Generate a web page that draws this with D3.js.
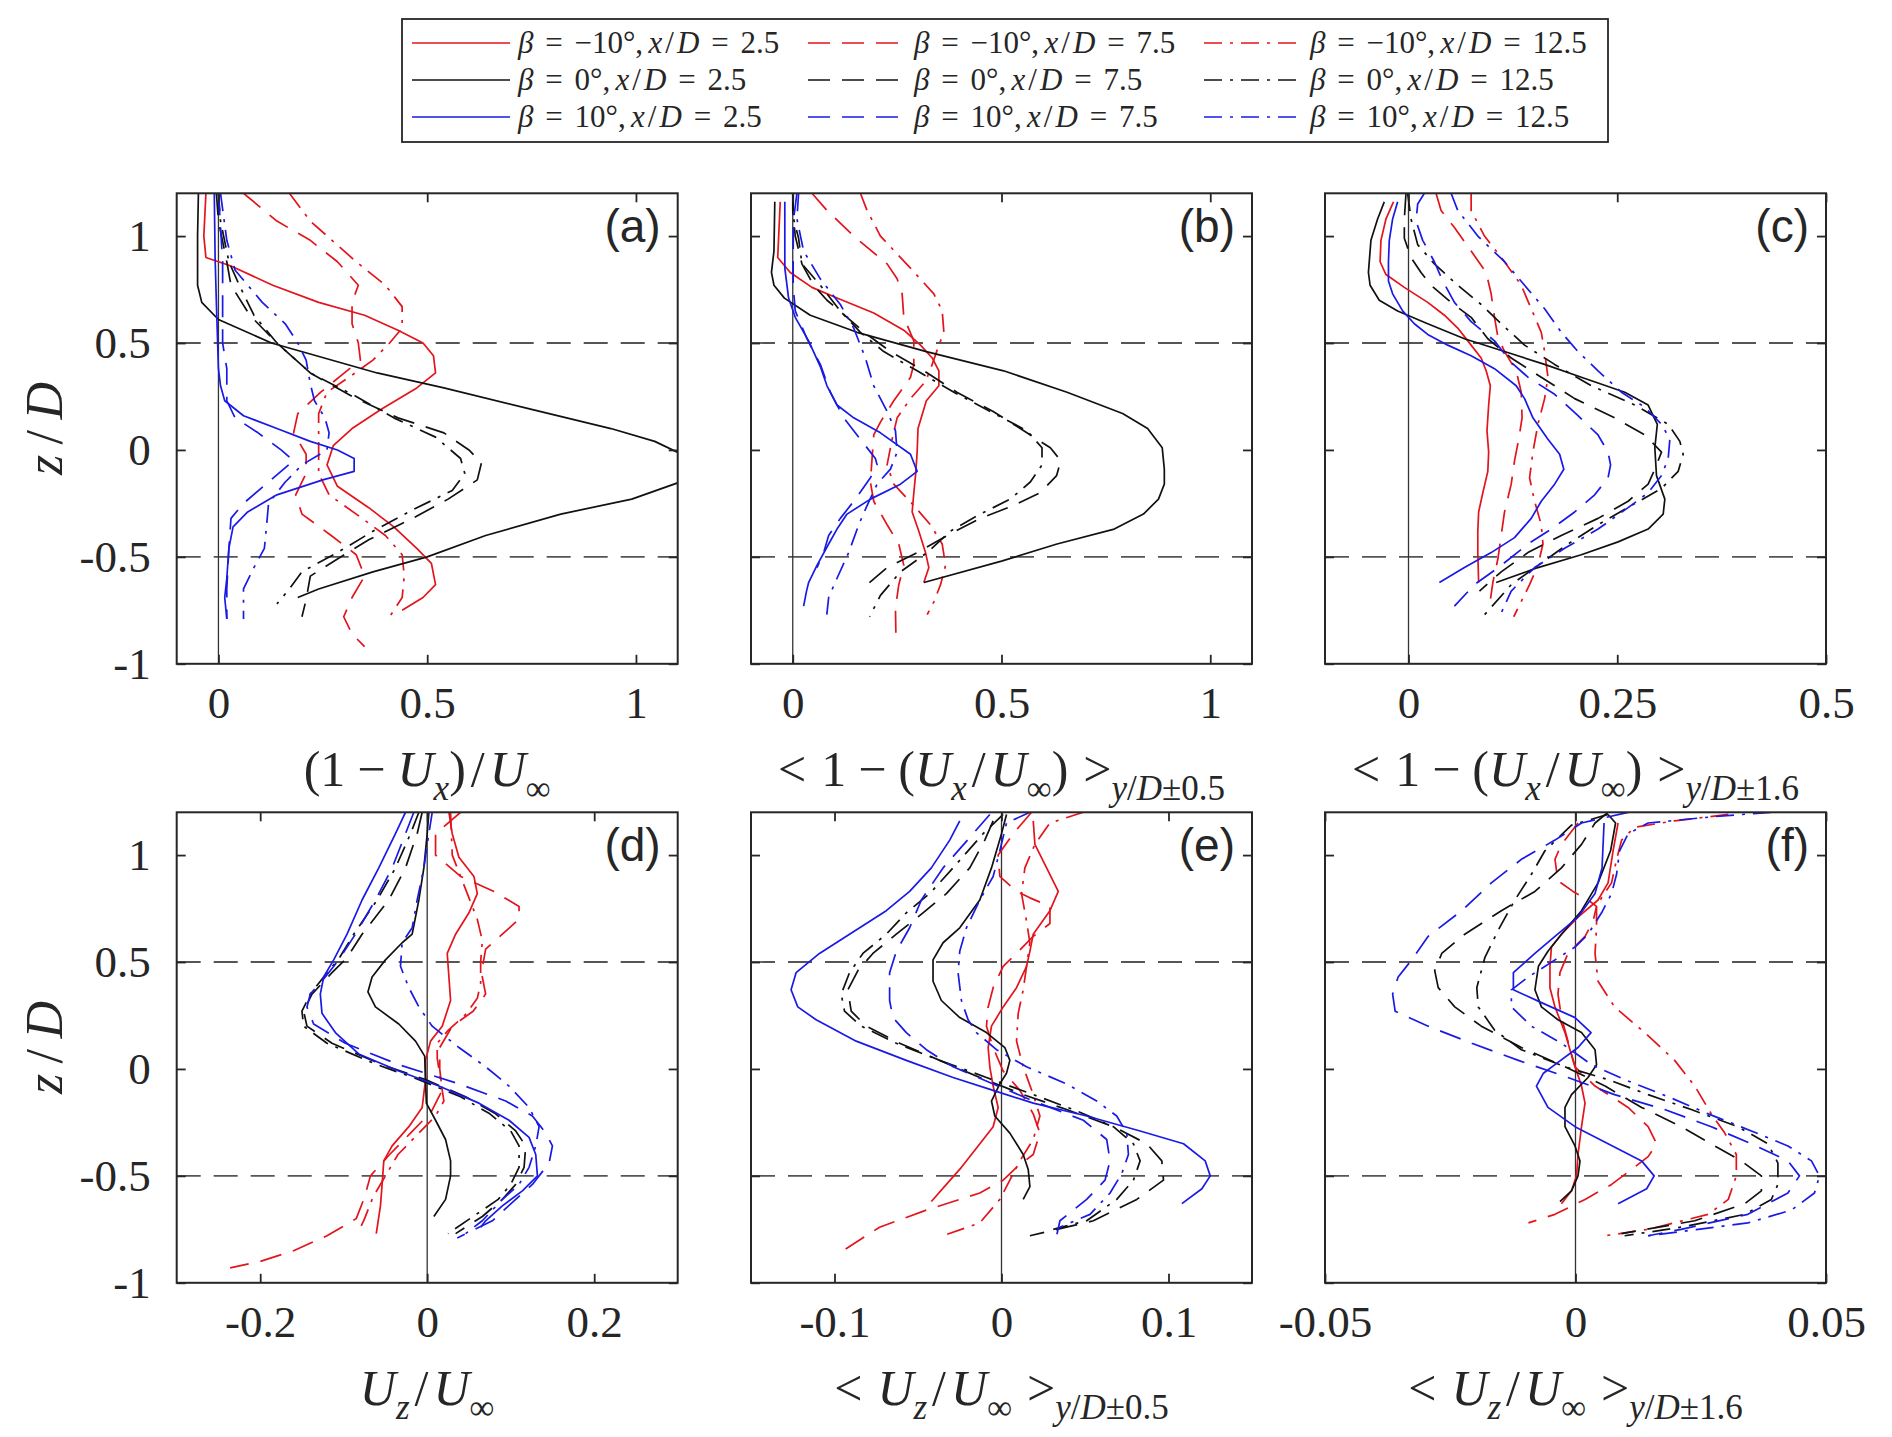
<!DOCTYPE html>
<html>
<head>
<meta charset="utf-8">
<script src="https://cdn.jsdelivr.net/npm/d3@7"></script>
<style>
  body { margin: 0; background: #fff; }
  text { fill: #262626; }
</style>
</head>
<body>
<svg id="fig" width="1892" height="1437"></svg>
<script>
// ---- data: each profile is a list of [value, z/D] pairs ----
// panel (a)  (1 - Ux)/Uinf
const a_m10_25 = [[-0.03,1.2],[-0.035,1.0],[-0.03,0.9],[0.03,0.86],[0.13,0.77],[0.24,0.69],[0.35,0.63],[0.43,0.56],[0.49,0.5],[0.515,0.44],[0.52,0.36],[0.475,0.29],[0.39,0.19],[0.32,0.1],[0.275,0.02],[0.26,-0.07],[0.285,-0.17],[0.36,-0.27],[0.42,-0.36],[0.475,-0.46],[0.51,-0.53],[0.52,-0.63],[0.49,-0.69],[0.44,-0.75]];
const a_m10_75 = [[0.06,1.2],[0.14,1.07],[0.22,0.98],[0.285,0.88],[0.335,0.77],[0.32,0.69],[0.32,0.59],[0.335,0.5],[0.34,0.42],[0.295,0.35],[0.245,0.27],[0.19,0.17],[0.18,0.08],[0.21,-0.02],[0.21,-0.11],[0.185,-0.21],[0.2,-0.3],[0.27,-0.4],[0.33,-0.49],[0.35,-0.59],[0.32,-0.69],[0.3,-0.78],[0.32,-0.86],[0.35,-0.92]];
const a_m10_125 = [[0.17,1.2],[0.22,1.07],[0.33,0.88],[0.4,0.77],[0.44,0.67],[0.44,0.57],[0.41,0.5],[0.37,0.42],[0.32,0.35],[0.26,0.27],[0.24,0.17],[0.24,0.08],[0.24,-0.02],[0.24,-0.11],[0.265,-0.21],[0.33,-0.3],[0.4,-0.4],[0.44,-0.49],[0.445,-0.59],[0.44,-0.69],[0.41,-0.78]];
const a_0_25 = [[-0.048,1.2],[-0.05,1.0],[-0.05,0.77],[-0.04,0.69],[0,0.61],[0.127,0.5],[0.38,0.36],[0.54,0.29],[0.75,0.19],[0.94,0.1],[1.045,0.04],[1.12,-0.03],[1.15,-0.08],[1.12,-0.14],[0.99,-0.23],[0.82,-0.3],[0.64,-0.4],[0.5,-0.5],[0.37,-0.57],[0.24,-0.65],[0.19,-0.69]];
const a_0_75 = [[-0.005,1.2],[0,1.07],[0.02,0.88],[0.03,0.77],[0.075,0.63],[0.14,0.5],[0.22,0.36],[0.32,0.25],[0.43,0.15],[0.54,0.08],[0.6,0.0],[0.63,-0.06],[0.62,-0.14],[0.55,-0.23],[0.465,-0.32],[0.36,-0.42],[0.285,-0.51],[0.22,-0.59],[0.21,-0.7],[0.2,-0.78]];
const a_0_125 = [[0,1.2],[0.005,1.07],[0.025,0.88],[0.05,0.77],[0.085,0.63],[0.14,0.5],[0.22,0.36],[0.33,0.25],[0.42,0.15],[0.52,0.06],[0.58,-0.04],[0.59,-0.11],[0.56,-0.19],[0.465,-0.28],[0.37,-0.38],[0.285,-0.48],[0.2,-0.57],[0.17,-0.65],[0.14,-0.72]];
const a_10_25 = [[-0.01,1.2],[-0.008,0.9],[-0.005,0.69],[0,0.38],[0.005,0.3],[0.015,0.23],[0.06,0.16],[0.14,0.1],[0.22,0.04],[0.285,0.0],[0.325,-0.04],[0.325,-0.1],[0.25,-0.14],[0.14,-0.21],[0.07,-0.29],[0.035,-0.36],[0.025,-0.46],[0.02,-0.6],[0.015,-0.69],[0.02,-0.79]];
const a_10_75 = [[0,1.2],[0.01,0.88],[0.01,0.69],[0.01,0.5],[0.02,0.38],[0.02,0.23],[0.04,0.15],[0.095,0.08],[0.15,0.0],[0.18,-0.05],[0.12,-0.15],[0.06,-0.25],[0.03,-0.32],[0.025,-0.46],[0.02,-0.65],[0.02,-0.79]];
const a_10_125 = [[0.005,1.2],[0.02,0.98],[0.04,0.84],[0.105,0.69],[0.16,0.59],[0.19,0.5],[0.21,0.42],[0.22,0.31],[0.23,0.23],[0.255,0.15],[0.265,0.08],[0.26,0.0],[0.2,-0.07],[0.16,-0.15],[0.12,-0.25],[0.115,-0.36],[0.11,-0.46],[0.085,-0.55],[0.06,-0.65],[0.06,-0.79]];

// panel (b)  <1 - Ux/Uinf> over y/D +-0.5
const b_m10_25 = [[-0.03,1.16],[-0.036,0.9],[-0.006,0.83],[0.046,0.76],[0.106,0.71],[0.194,0.64],[0.266,0.56],[0.306,0.49],[0.334,0.43],[0.35,0.37],[0.35,0.3],[0.32,0.23],[0.3,0.1],[0.298,-0.01],[0.294,-0.12],[0.29,-0.2],[0.286,-0.29],[0.302,-0.38],[0.318,-0.48],[0.326,-0.55],[0.314,-0.62]];
const b_m10_75 = [[0.046,1.2],[0.082,1.12],[0.146,1.0],[0.226,0.87],[0.25,0.8],[0.262,0.73],[0.266,0.62],[0.29,0.51],[0.29,0.4],[0.282,0.34],[0.242,0.23],[0.21,0.13],[0.194,0.07],[0.19,-0.04],[0.186,-0.15],[0.194,-0.24],[0.226,-0.35],[0.254,-0.44],[0.266,-0.54],[0.254,-0.63],[0.246,-0.74],[0.247,-0.86]];
const b_m10_125 = [[0.162,1.2],[0.178,1.12],[0.21,1.0],[0.282,0.85],[0.338,0.73],[0.358,0.65],[0.362,0.55],[0.35,0.49],[0.334,0.4],[0.318,0.32],[0.282,0.24],[0.25,0.15],[0.238,0.05],[0.226,-0.07],[0.242,-0.16],[0.29,-0.26],[0.33,-0.35],[0.358,-0.44],[0.366,-0.54],[0.354,-0.63],[0.338,-0.71],[0.322,-0.77]];
const b_0_25 = [[-0.043,1.16],[-0.045,0.93],[-0.051,0.83],[-0.045,0.77],[-0.02,0.71],[0.042,0.63],[0.154,0.55],[0.32,0.46],[0.505,0.37],[0.657,0.27],[0.79,0.17],[0.85,0.1],[0.885,0.01],[0.89,-0.09],[0.89,-0.16],[0.876,-0.23],[0.84,-0.3],[0.77,-0.37],[0.633,-0.44],[0.5,-0.52],[0.314,-0.62]];
const b_0_75 = [[0,1.2],[0,1.12],[0.006,1.0],[0.022,0.87],[0.05,0.77],[0.082,0.7],[0.13,0.62],[0.178,0.54],[0.234,0.46],[0.314,0.37],[0.393,0.27],[0.48,0.18],[0.545,0.1],[0.617,0.01],[0.642,-0.05],[0.632,-0.12],[0.593,-0.2],[0.529,-0.26],[0.449,-0.32],[0.37,-0.4],[0.298,-0.48],[0.226,-0.55],[0.166,-0.65]];
const b_0_125 = [[0,1.2],[0.002,1.08],[0.014,0.99],[0.022,0.87],[0.066,0.77],[0.114,0.65],[0.162,0.55],[0.218,0.46],[0.298,0.37],[0.386,0.27],[0.473,0.18],[0.561,0.09],[0.597,0.01],[0.597,-0.07],[0.569,-0.15],[0.521,-0.23],[0.449,-0.3],[0.377,-0.38],[0.322,-0.48],[0.258,-0.57],[0.21,-0.68],[0.184,-0.78]];
const b_10_25 = [[-0.019,1.16],[-0.019,0.85],[-0.01,0.71],[0.006,0.62],[0.038,0.51],[0.066,0.39],[0.082,0.3],[0.106,0.21],[0.146,0.15],[0.21,0.08],[0.282,-0.02],[0.298,-0.1],[0.258,-0.16],[0.186,-0.23],[0.13,-0.3],[0.106,-0.37],[0.086,-0.44],[0.058,-0.54],[0.038,-0.62],[0.033,-0.66],[0.026,-0.73]];
const b_10_75 = [[0.01,1.2],[0.002,1.08],[0.001,0.93],[0.001,0.77],[0.006,0.65],[0.034,0.52],[0.066,0.4],[0.09,0.27],[0.122,0.15],[0.162,0.05],[0.198,-0.04],[0.202,-0.07],[0.186,-0.13],[0.15,-0.23],[0.114,-0.32],[0.086,-0.4],[0.074,-0.48],[0.058,-0.55]];
const b_10_125 = [[0.014,1.2],[0.01,1.08],[0.026,0.93],[0.066,0.8],[0.114,0.68],[0.146,0.57],[0.174,0.43],[0.194,0.3],[0.226,0.18],[0.246,0.09],[0.25,-0.01],[0.234,-0.09],[0.202,-0.16],[0.178,-0.26],[0.158,-0.35],[0.134,-0.48],[0.106,-0.6],[0.086,-0.69],[0.081,-0.78]];

// panel (c)  <1 - Ux/Uinf> over y/D +-1.6
const c_m10_25 = [[-0.018,1.16],[-0.027,1.08],[-0.033,0.98],[-0.034,0.88],[-0.027,0.82],[-0.005,0.76],[0.023,0.69],[0.043,0.63],[0.059,0.57],[0.071,0.51],[0.087,0.43],[0.093,0.37],[0.098,0.3],[0.096,0.21],[0.094,0.09],[0.096,-0.01],[0.095,-0.1],[0.089,-0.2],[0.084,-0.29],[0.083,-0.38],[0.083,-0.48],[0.084,-0.62]];
const c_m10_75 = [[0.033,1.2],[0.039,1.12],[0.055,1.04],[0.075,0.93],[0.093,0.83],[0.099,0.73],[0.103,0.62],[0.107,0.53],[0.115,0.46],[0.129,0.37],[0.135,0.27],[0.136,0.15],[0.132,0.05],[0.127,-0.05],[0.123,-0.16],[0.115,-0.29],[0.111,-0.4],[0.107,-0.51],[0.101,-0.62],[0.097,-0.73]];
const c_m10_125 = [[0.075,1.2],[0.075,1.12],[0.091,1.0],[0.115,0.88],[0.135,0.77],[0.147,0.66],[0.159,0.55],[0.163,0.46],[0.167,0.34],[0.163,0.24],[0.155,0.12],[0.149,-0.01],[0.145,-0.13],[0.151,-0.24],[0.159,-0.35],[0.161,-0.44],[0.155,-0.54],[0.145,-0.63],[0.126,-0.78]];
const c_0_25 = [[-0.029,1.16],[-0.037,1.08],[-0.045,0.98],[-0.048,0.83],[-0.046,0.77],[-0.035,0.7],[-0.013,0.65],[0.023,0.59],[0.067,0.52],[0.115,0.46],[0.163,0.4],[0.207,0.34],[0.259,0.27],[0.287,0.21],[0.298,0.12],[0.295,0.01],[0.297,-0.12],[0.307,-0.23],[0.305,-0.3],[0.287,-0.37],[0.251,-0.43],[0.207,-0.49],[0.155,-0.55],[0.105,-0.62]];
const c_0_75 = [[-0.003,1.2],[-0.005,1.08],[-0.005,0.99],[0.003,0.9],[0.015,0.83],[0.027,0.77],[0.051,0.69],[0.075,0.62],[0.095,0.52],[0.123,0.43],[0.159,0.34],[0.199,0.24],[0.247,0.15],[0.283,0.07],[0.303,-0.01],[0.295,-0.09],[0.287,-0.16],[0.263,-0.24],[0.227,-0.32],[0.183,-0.4],[0.143,-0.48],[0.111,-0.57],[0.085,-0.66]];
const c_0_125 = [[-0.001,1.2],[0.003,1.08],[0.011,0.96],[0.031,0.87],[0.059,0.77],[0.087,0.68],[0.111,0.59],[0.139,0.49],[0.175,0.4],[0.219,0.3],[0.271,0.21],[0.311,0.12],[0.325,0.04],[0.329,-0.02],[0.323,-0.1],[0.303,-0.18],[0.267,-0.26],[0.227,-0.35],[0.191,-0.44],[0.155,-0.54],[0.123,-0.63],[0.089,-0.78]];
const c_10_25 = [[-0.013,1.16],[-0.019,1.08],[-0.023,0.98],[-0.024,0.88],[-0.024,0.79],[-0.019,0.73],[-0.007,0.65],[0.007,0.59],[0.023,0.54],[0.047,0.49],[0.075,0.44],[0.103,0.38],[0.129,0.3],[0.139,0.24],[0.149,0.15],[0.167,0.05],[0.181,-0.02],[0.186,-0.09],[0.175,-0.16],[0.159,-0.24],[0.147,-0.32],[0.127,-0.41],[0.099,-0.48],[0.067,-0.55],[0.037,-0.62]];
const c_10_75 = [[0.019,1.2],[0.011,1.15],[0.009,1.07],[0.017,0.98],[0.031,0.88],[0.041,0.79],[0.055,0.69],[0.075,0.6],[0.103,0.51],[0.123,0.41],[0.143,0.34],[0.175,0.26],[0.203,0.16],[0.227,0.07],[0.239,-0.01],[0.242,-0.07],[0.239,-0.13],[0.223,-0.21],[0.199,-0.29],[0.171,-0.37],[0.143,-0.44],[0.111,-0.54],[0.079,-0.63],[0.055,-0.73]];
const c_10_125 = [[0.051,1.2],[0.059,1.12],[0.083,1.0],[0.115,0.88],[0.139,0.77],[0.163,0.66],[0.183,0.55],[0.203,0.46],[0.227,0.37],[0.255,0.27],[0.283,0.2],[0.303,0.12],[0.313,0.05],[0.311,-0.04],[0.303,-0.12],[0.287,-0.2],[0.263,-0.27],[0.227,-0.37],[0.187,-0.46],[0.151,-0.55],[0.123,-0.66],[0.109,-0.78]];

// panel (d)  Uz/Uinf
const d_m10_25 = [[0.026,1.2],[0.03,1.1],[0.038,0.99],[0.056,0.9],[0.06,0.82],[0.05,0.73],[0.034,0.63],[0.024,0.54],[0.026,0.43],[0.028,0.32],[0.018,0.2],[0.004,0.13],[-0.002,0.04],[-0.002,-0.05],[-0.006,-0.18],[-0.022,-0.27],[-0.042,-0.36],[-0.052,-0.43],[-0.054,-0.54],[-0.056,-0.64],[-0.061,-0.77]];
const d_m10_75 = [[0.04,1.2],[0.01,1.1],[0.01,1.0],[0.04,0.9],[0.08,0.83],[0.11,0.76],[0.11,0.7],[0.09,0.63],[0.07,0.56],[0.065,0.45],[0.07,0.35],[0.055,0.27],[0.03,0.2],[0.015,0.1],[0.015,0],[0.018,-0.1],[0.005,-0.2],[-0.02,-0.3],[-0.045,-0.4],[-0.068,-0.5],[-0.075,-0.6],[-0.085,-0.7],[-0.12,-0.78],[-0.16,-0.85],[-0.2,-0.9],[-0.236,-0.93]];
const d_m10_125 = [[0.028,1.2],[0.03,1.0],[0.045,0.85],[0.06,0.7],[0.066,0.6],[0.064,0.5],[0.064,0.4],[0.06,0.33],[0.045,0.25],[0.025,0.18],[0.012,0.12],[0.012,0.05],[0.016,-0.05],[0.02,-0.15],[0.01,-0.22],[-0.01,-0.3],[-0.035,-0.4],[-0.05,-0.5],[-0.065,-0.6],[-0.075,-0.7],[-0.082,-0.76]];
const d_0_25 = [[0.002,1.2],[0,1.1],[-0.004,0.94],[-0.01,0.79],[-0.018,0.63],[-0.03,0.59],[-0.05,0.51],[-0.066,0.43],[-0.071,0.36],[-0.062,0.29],[-0.034,0.21],[-0.014,0.13],[-0.003,0.06],[-0.002,-0.05],[-0.001,-0.16],[0.01,-0.24],[0.022,-0.33],[0.028,-0.43],[0.028,-0.5],[0.022,-0.61],[0.008,-0.69]];
const d_0_75 = [[-0.006,1.2],[-0.012,1.1],[-0.026,0.94],[-0.046,0.79],[-0.078,0.63],[-0.096,0.52],[-0.114,0.45],[-0.138,0.35],[-0.148,0.27],[-0.144,0.2],[-0.114,0.12],[-0.054,0.02],[-0.002,-0.05],[0.046,-0.13],[0.082,-0.21],[0.106,-0.29],[0.118,-0.36],[0.116,-0.46],[0.106,-0.54],[0.09,-0.61],[0.066,-0.69],[0.034,-0.77]];
const d_0_125 = [[-0.01,1.2],[-0.02,1.1],[-0.038,0.94],[-0.06,0.79],[-0.088,0.63],[-0.105,0.52],[-0.12,0.45],[-0.14,0.35],[-0.15,0.27],[-0.148,0.2],[-0.12,0.12],[-0.06,0.02],[-0.01,-0.05],[0.04,-0.13],[0.075,-0.21],[0.1,-0.29],[0.11,-0.36],[0.11,-0.46],[0.1,-0.54],[0.085,-0.61],[0.055,-0.69],[0.025,-0.77]];
const d_10_25 = [[-0.026,1.2],[-0.038,1.1],[-0.058,0.94],[-0.078,0.79],[-0.096,0.63],[-0.112,0.51],[-0.124,0.43],[-0.128,0.35],[-0.126,0.26],[-0.11,0.17],[-0.082,0.07],[-0.034,-0.01],[0.014,-0.08],[0.062,-0.16],[0.098,-0.24],[0.122,-0.32],[0.13,-0.4],[0.132,-0.5],[0.114,-0.57],[0.09,-0.64],[0.07,-0.71],[0.064,-0.74]];
const d_10_75 = [[-0.016,1.2],[-0.026,1.1],[-0.042,0.94],[-0.062,0.79],[-0.086,0.63],[-0.106,0.51],[-0.122,0.43],[-0.14,0.35],[-0.144,0.29],[-0.136,0.21],[-0.098,0.12],[-0.034,0.02],[0.038,-0.07],[0.094,-0.15],[0.126,-0.22],[0.142,-0.3],[0.15,-0.36],[0.146,-0.44],[0.126,-0.54],[0.106,-0.61],[0.078,-0.71],[0.036,-0.79]];
const d_10_125 = [[0.006,1.2],[0.002,1.1],[-0.004,0.94],[-0.012,0.79],[-0.018,0.66],[-0.03,0.59],[-0.032,0.48],[-0.022,0.38],[-0.01,0.29],[0.006,0.2],[0.038,0.1],[0.07,0.01],[0.098,-0.08],[0.122,-0.18],[0.134,-0.27],[0.13,-0.36],[0.122,-0.46],[0.11,-0.54],[0.09,-0.61],[0.066,-0.71],[0.046,-0.77]];

// panel (e)  <Uz/Uinf> over y/D +-0.5
const e_m10_25 = [[0.019,1.16],[0.02,1.05],[0.027,0.94],[0.034,0.83],[0.029,0.74],[0.019,0.63],[0.017,0.55],[0.015,0.48],[0.009,0.38],[0.001,0.29],[-0.006,0.2],[-0.008,0.1],[-0.007,0.01],[-0.005,-0.08],[-0.002,-0.18],[-0.005,-0.27],[-0.014,-0.36],[-0.024,-0.46],[-0.033,-0.54],[-0.042,-0.62]];
const e_m10_75 = [[0.018,1.2],[0.007,1.1],[-0.002,1.0],[-0.001,0.9],[0.009,0.83],[0.017,0.8],[0.029,0.76],[0.029,0.68],[0.019,0.62],[0.009,0.54],[0.001,0.48],[-0.005,0.38],[-0.008,0.29],[-0.009,0.2],[-0.005,0.1],[0.001,-0.01],[0.011,-0.1],[0.019,-0.21],[0.023,-0.3],[0.019,-0.4],[0.009,-0.46],[0.001,-0.52],[-0.013,-0.58],[-0.045,-0.66],[-0.073,-0.74],[-0.097,-0.86]];
const e_m10_125 = [[0.049,1.2],[0.029,1.15],[0.02,1.05],[0.014,0.94],[0.012,0.82],[0.015,0.69],[0.017,0.59],[0.015,0.48],[0.013,0.37],[0.01,0.26],[0.009,0.13],[0.013,0.01],[0.019,-0.12],[0.023,-0.22],[0.019,-0.33],[0.011,-0.43],[0.005,-0.52],[-0.001,-0.61],[-0.013,-0.72],[-0.035,-0.78]];
const e_0_25 = [[0.003,1.19],[0,1.1],[-0.006,0.94],[-0.013,0.79],[-0.025,0.66],[-0.035,0.59],[-0.041,0.51],[-0.041,0.41],[-0.036,0.32],[-0.025,0.24],[-0.009,0.17],[0.002,0.1],[0.005,0.04],[0.003,-0.02],[-0.001,-0.07],[-0.006,-0.15],[-0.004,-0.22],[0.005,-0.3],[0.013,-0.4],[0.016,-0.47],[0.017,-0.55],[0.013,-0.61]];
const e_0_75 = [[-0.005,1.16],[-0.01,1.07],[-0.019,0.94],[-0.033,0.82],[-0.047,0.73],[-0.063,0.63],[-0.077,0.54],[-0.086,0.46],[-0.092,0.37],[-0.09,0.27],[-0.081,0.2],[-0.061,0.12],[-0.037,0.04],[-0.013,-0.04],[0.013,-0.12],[0.039,-0.19],[0.067,-0.27],[0.087,-0.35],[0.096,-0.43],[0.097,-0.52],[0.081,-0.61],[0.055,-0.71],[0.017,-0.78]];
const e_0_125 = [[0.001,1.19],[-0.011,1.1],[-0.029,0.94],[-0.043,0.82],[-0.057,0.73],[-0.069,0.63],[-0.083,0.54],[-0.091,0.45],[-0.096,0.35],[-0.094,0.27],[-0.084,0.2],[-0.063,0.12],[-0.037,0.04],[-0.009,-0.04],[0.019,-0.12],[0.043,-0.19],[0.067,-0.27],[0.079,-0.35],[0.083,-0.43],[0.079,-0.52],[0.069,-0.61],[0.051,-0.71],[0.031,-0.75]];
const e_10_25 = [[-0.025,1.16],[-0.031,1.07],[-0.042,0.94],[-0.055,0.83],[-0.069,0.74],[-0.091,0.63],[-0.109,0.54],[-0.123,0.45],[-0.126,0.37],[-0.122,0.29],[-0.111,0.23],[-0.087,0.13],[-0.057,0.04],[-0.029,-0.04],[-0.005,-0.1],[0.019,-0.16],[0.051,-0.22],[0.083,-0.29],[0.109,-0.35],[0.122,-0.43],[0.125,-0.5],[0.12,-0.56],[0.108,-0.63]];
const e_10_75 = [[-0.007,1.19],[-0.017,1.1],[-0.035,0.94],[-0.048,0.79],[-0.055,0.66],[-0.063,0.55],[-0.067,0.45],[-0.067,0.32],[-0.065,0.24],[-0.057,0.17],[-0.045,0.09],[-0.029,0.01],[-0.005,-0.07],[0.019,-0.15],[0.049,-0.24],[0.063,-0.33],[0.065,-0.43],[0.062,-0.52],[0.051,-0.61],[0.035,-0.71],[0.033,-0.78]];
const e_10_125 = [[0.017,1.2],[0.003,1.15],[-0.001,1.02],[-0.005,0.9],[-0.013,0.79],[-0.021,0.66],[-0.025,0.55],[-0.026,0.45],[-0.024,0.32],[-0.02,0.23],[-0.015,0.17],[-0.003,0.09],[0.015,0.01],[0.039,-0.07],[0.057,-0.15],[0.069,-0.22],[0.075,-0.3],[0.076,-0.4],[0.072,-0.49],[0.065,-0.58],[0.053,-0.68],[0.035,-0.74]];

// panel (f)  <Uz/Uinf> over y/D +-1.6
const f_m10_25 = [[0.0085,1.15],[0.0075,1.02],[0.0065,0.87],[0.0045,0.79],[0.0005,0.71],[-0.0028,0.63],[-0.0048,0.57],[-0.0051,0.48],[-0.0051,0.38],[-0.0041,0.29],[-0.0021,0.17],[-0.0005,0.04],[0.0012,-0.08],[0.0019,-0.16],[0.0012,-0.27],[0.0005,-0.4],[0.0002,-0.5],[-0.0008,-0.57],[-0.0028,-0.63]];
const f_m10_75 = [[0.0005,1.15],[-0.0028,1.05],[-0.0041,0.98],[-0.0035,0.88],[-0.0005,0.83],[0.0025,0.79],[0.0042,0.76],[0.0035,0.69],[0.0019,0.62],[-0.0015,0.54],[-0.0031,0.45],[-0.0035,0.35],[-0.0028,0.24],[-0.0015,0.13],[-0.0001,0.01],[0.0039,-0.08],[0.0105,-0.18],[0.0145,-0.27],[0.0162,-0.35],[0.0145,-0.41],[0.0112,-0.47],[0.0072,-0.54],[0.0019,-0.61],[-0.0041,-0.68],[-0.0094,-0.72]];
const f_m10_125 = [[0.0305,1.19],[0.0198,1.16],[0.0118,1.13],[0.0092,1.07],[0.0082,0.98],[0.0072,0.87],[0.0052,0.8],[0.0042,0.76],[0.0042,0.66],[0.0039,0.54],[0.0045,0.41],[0.0078,0.29],[0.0138,0.17],[0.0198,0.04],[0.0238,-0.08],[0.0271,-0.21],[0.0298,-0.3],[0.0321,-0.4],[0.0321,-0.5],[0.0305,-0.61],[0.0265,-0.68],[0.0145,-0.75],[0.0059,-0.78]];
const f_0_25 = [[0.0065,1.19],[0.008,1.15],[0.007,1.02],[0.0045,0.87],[0.0012,0.74],[-0.0028,0.63],[-0.0055,0.55],[-0.0074,0.48],[-0.0081,0.37],[-0.0068,0.29],[-0.0035,0.23],[0.0012,0.17],[0.0039,0.09],[0.0042,0.02],[0.0025,-0.04],[-0.0008,-0.12],[-0.0021,-0.18],[-0.0021,-0.27],[-0.0001,-0.36],[0.0009,-0.43],[0.0005,-0.5],[-0.0008,-0.57],[-0.0031,-0.62]];
const f_0_75 = [[0.0065,1.2],[0.0039,1.15],[0.0012,1.05],[-0.0028,0.94],[-0.0081,0.83],[-0.0148,0.74],[-0.0221,0.63],[-0.0267,0.54],[-0.0281,0.46],[-0.0274,0.38],[-0.0241,0.29],[-0.0188,0.2],[-0.0108,0.1],[-0.0021,0.01],[0.0059,-0.08],[0.0132,-0.18],[0.0211,-0.27],[0.0278,-0.36],[0.0331,-0.43],[0.0371,-0.5],[0.0371,-0.57],[0.0338,-0.63],[0.0238,-0.71],[0.0092,-0.77]];
const f_0_125 = [[0.0065,1.19],[-0.0008,1.14],[-0.0061,1.02],[-0.0088,0.91],[-0.0121,0.79],[-0.0154,0.65],[-0.0181,0.52],[-0.0197,0.38],[-0.0194,0.29],[-0.0161,0.18],[-0.0108,0.09],[-0.0021,0.01],[0.0065,-0.05],[0.0145,-0.12],[0.0231,-0.19],[0.0324,-0.27],[0.0384,-0.35],[0.0404,-0.44],[0.0404,-0.54],[0.0391,-0.61],[0.0338,-0.68],[0.0211,-0.74],[0.0098,-0.78]];
const f_10_25 = [[0.0057,1.15],[0.0053,0.94],[0.0039,0.82],[0.0005,0.71],[-0.0041,0.62],[-0.0081,0.54],[-0.0124,0.45],[-0.0124,0.37],[-0.0068,0.31],[-0.0001,0.24],[0.0031,0.17],[0.0005,0.1],[-0.0041,0.02],[-0.0064,-0.02],[-0.0078,-0.08],[-0.0055,-0.18],[-0.0001,-0.27],[0.0065,-0.35],[0.0132,-0.43],[0.0157,-0.5],[0.0142,-0.56],[0.0085,-0.63]];
const f_10_75 = [[0.0105,1.2],[0.0012,1.15],[-0.0041,1.07],[-0.0108,0.98],[-0.0168,0.87],[-0.0227,0.74],[-0.0294,0.62],[-0.0327,0.51],[-0.0354,0.43],[-0.0365,0.35],[-0.036,0.27],[-0.0294,0.2],[-0.0207,0.12],[-0.0114,0.04],[-0.0015,-0.04],[0.0078,-0.12],[0.0178,-0.19],[0.0271,-0.27],[0.0351,-0.35],[0.0424,-0.43],[0.0447,-0.5],[0.0424,-0.58],[0.0344,-0.68],[0.0211,-0.75],[0.0145,-0.78]];
const f_10_125 = [[0.039,1.2],[0.0278,1.18],[0.0145,1.15],[0.0105,1.1],[0.0088,1.02],[0.0082,0.91],[0.0072,0.82],[0.0052,0.73],[0.0025,0.63],[-0.0001,0.57],[-0.0041,0.51],[-0.0094,0.43],[-0.0128,0.37],[-0.0128,0.29],[-0.0088,0.2],[-0.0028,0.12],[0.0032,0.02],[0.0098,-0.05],[0.0185,-0.13],[0.0265,-0.21],[0.0351,-0.29],[0.0424,-0.36],[0.0471,-0.43],[0.0487,-0.5],[0.0477,-0.58],[0.0431,-0.66],[0.0344,-0.72],[0.0245,-0.75],[0.0145,-0.78]];

// ---- categories, ranges and ticks ----
const betas = [-10, 0, 10];
const xPositions = [2.5, 7.5, 12.5];
const panelLetters = ["a", "b", "c", "d", "e", "f"];
const panelDomains = [[-0.1, 1.1], [-0.1, 1.1], [-0.1, 0.5], [-0.3, 0.3], [-0.15, 0.15], [-0.05, 0.05]];
const panelTicks = [[0, 0.5, 1], [0, 0.5, 1], [0, 0.25, 0.5], [-0.2, 0, 0.2], [-0.1, 0, 0.1], [-0.05, 0, 0.05]];
const zDomain = [-1, 1.2];
const zTicks = [-1, -0.5, 0, 0.5, 1];
const zGuides = [-0.5, 0.5];

// curves per panel, ordered beta-major, x/D-minor (matches betas x xPositions)
const panelCurves = [
  [a_m10_25, a_m10_75, a_m10_125, a_0_25, a_0_75, a_0_125, a_10_25, a_10_75, a_10_125],
  [b_m10_25, b_m10_75, b_m10_125, b_0_25, b_0_75, b_0_125, b_10_25, b_10_75, b_10_125],
  [c_m10_25, c_m10_75, c_m10_125, c_0_25, c_0_75, c_0_125, c_10_25, c_10_75, c_10_125],
  [d_m10_25, d_m10_75, d_m10_125, d_0_25, d_0_75, d_0_125, d_10_25, d_10_75, d_10_125],
  [e_m10_25, e_m10_75, e_m10_125, e_0_25, e_0_75, e_0_125, e_10_25, e_10_75, e_10_125],
  [f_m10_25, f_m10_75, f_m10_125, f_0_25, f_0_75, f_0_125, f_10_25, f_10_75, f_10_125]
];

// ---- styling ----
const betaColor = d3.scaleOrdinal().domain(betas).range(["#e3141b", "#111111", "#1a1ae6"]);
const posDash = d3.scaleOrdinal().domain(xPositions).range(["none", "22,12", "18,8,3,8"]);
const axisColor = "#262626";
const serif = "'Liberation Serif', 'DejaVu Serif', serif";

const colLeft = [176.7, 751, 1325];
const rowTop = [193.3, 812.3];
const panelW = 501, panelH = 470.5;

const svg = d3.select("#fig");

// label segments: t = text, i = italic, s = subscript, l / r = extra space (em) before / after
const U = {t: "U", i: 1}, Uinf = {t: "\u221E", s: 1};
const slash = {t: "/", l: 0.1, r: 0.1};
const minus = {t: "\u2212", l: 0.24, r: 0.24};
const avgSub = v => [{t: "y", i: 1, s: 1}, {t: "/", s: 1}, {t: "D", i: 1, s: 1}, {t: "\u00B1" + v, s: 1}];
const xLabels = [
  [{t: "(1"}, minus, U, {t: "x", i: 1, s: 1}, {t: ")"}, slash, U, Uinf],
  [{t: "<", r: 0.3}, {t: "1"}, minus, {t: "("}, U, {t: "x", i: 1, s: 1}, slash, U, Uinf, {t: ")"}, {t: ">", l: 0.3}, ...avgSub("0.5")],
  [{t: "<", r: 0.3}, {t: "1"}, minus, {t: "("}, U, {t: "x", i: 1, s: 1}, slash, U, Uinf, {t: ")"}, {t: ">", l: 0.3}, ...avgSub("1.6")],
  [U, {t: "z", i: 1, s: 1}, slash, U, Uinf],
  [{t: "<", r: 0.3}, U, {t: "z", i: 1, s: 1}, slash, U, Uinf, {t: ">", l: 0.3}, ...avgSub("0.5")],
  [{t: "<", r: 0.3}, U, {t: "z", i: 1, s: 1}, slash, U, Uinf, {t: ">", l: 0.3}, ...avgSub("1.6")]
];

function richText(sel, segs, size) {
  const subSize = size * 0.7, shift = size * 0.28;
  let down = false, carry = 0;
  segs.forEach(seg => {
    const ts = sel.append("tspan").text(seg.t)
      .attr("font-style", seg.i ? "italic" : "normal")
      .attr("font-size", seg.s ? subSize : size);
    let dy = 0;
    if (seg.s && !down) { dy = shift; down = true; }
    else if (!seg.s && down) { dy = -shift; down = false; }
    if (dy) ts.attr("dy", dy);
    const dx = (carry + (seg.l || 0)) * size;
    if (dx) ts.attr("dx", dx);
    carry = seg.r || 0;
  });
}

panelCurves.forEach((curves, p) => {
  const col = p % 3, row = Math.floor(p / 3);
  const left = colLeft[col], top = rowTop[row];
  const right = left + panelW, bottom = top + panelH;

  const x = d3.scaleLinear().domain(panelDomains[p]).range([left, right]);
  const y = d3.scaleLinear().domain(zDomain).range([bottom, top]);

  const g = svg.append("g");
  const clipId = "clip-" + panelLetters[p];
  svg.append("clipPath").attr("id", clipId)
    .append("rect").attr("x", left).attr("y", top).attr("width", panelW).attr("height", panelH);

  // guides: z/D = +-0.5 and the zero line
  g.selectAll(".guide").data(zGuides).join("line")
    .attr("x1", left).attr("x2", right)
    .attr("y1", d => y(d)).attr("y2", d => y(d))
    .attr("stroke", "#555").attr("stroke-width", 1.8).attr("stroke-dasharray", "24,13");
  g.append("line")
    .attr("x1", x(0)).attr("x2", x(0)).attr("y1", top).attr("y2", bottom)
    .attr("stroke", "#333").attr("stroke-width", 1.3);

  // profiles
  const line = d3.line().x(d => x(d[0])).y(d => y(d[1]));
  const plot = g.append("g").attr("clip-path", `url(#${clipId})`);
  curves.forEach((pts, k) => {
    const beta = betas[Math.floor(k / 3)], pos = xPositions[k % 3];
    plot.append("path").datum(pts)
      .attr("d", line)
      .attr("fill", "none")
      .attr("stroke", betaColor(beta))
      .attr("stroke-width", 1.7)
      .attr("stroke-linejoin", "round")
      .attr("stroke-dasharray", posDash(pos));
  });

  // frame and inward ticks on all sides
  g.append("rect").attr("x", left).attr("y", top).attr("width", panelW).attr("height", panelH)
    .attr("fill", "none").attr("stroke", axisColor).attr("stroke-width", 2);

  const fmt = d => String(d);
  const axB = g.append("g").attr("transform", `translate(0,${bottom})`)
    .call(d3.axisBottom(x).tickValues(panelTicks[p]).tickSize(-9).tickPadding(22).tickFormat(fmt));
  const axT = g.append("g").attr("transform", `translate(0,${top})`)
    .call(d3.axisTop(x).tickValues(panelTicks[p]).tickSize(-9).tickFormat(""));
  const axL = g.append("g").attr("transform", `translate(${left},0)`)
    .call(d3.axisLeft(y).tickValues(zTicks).tickSize(-9).tickPadding(26).tickFormat(col === 0 ? fmt : ""));
  const axR = g.append("g").attr("transform", `translate(${right},0)`)
    .call(d3.axisRight(y).tickValues(zTicks).tickSize(-9).tickFormat(""));
  [axB, axT, axL, axR].forEach(ax => {
    ax.select(".domain").remove();
    ax.selectAll(".tick line").attr("stroke", axisColor).attr("stroke-width", 1.8);
    ax.selectAll(".tick text").attr("fill", axisColor)
      .attr("font-family", serif).attr("font-size", 45);
  });

  // panel letter
  g.append("text").attr("x", right - 17).attr("y", top + 49)
    .attr("text-anchor", "end")
    .attr("font-family", "'Liberation Sans', Arial, sans-serif").attr("font-size", 46)
    .text(`(${panelLetters[p]})`);

  // x label
  const xl = g.append("text")
    .attr("x", (left + right) / 2).attr("y", bottom + 122)
    .attr("text-anchor", "middle")
    .attr("font-family", serif);
  richText(xl, xLabels[p], 50);

  // y label
  if (col === 0) {
    const yl = g.append("text")
      .attr("transform", `translate(62,${(top + bottom) / 2}) rotate(-90)`)
      .attr("text-anchor", "middle")
      .attr("font-family", serif);
    richText(yl, [{t: "z", i: 1}, {t: "/", l: 0.2, r: 0.2}, {t: "D", i: 1}], 52);
  }
});

// ---- legend ----
const legend = svg.append("g");
legend.append("rect").attr("x", 402).attr("y", 19).attr("width", 1206).attr("height", 123)
  .attr("fill", "#fff").attr("stroke", axisColor).attr("stroke-width", 1.8);

const legendCols = [412, 808, 1204];
const legendRows = [43, 80, 117];
betas.forEach((beta, r) => {
  xPositions.forEach((pos, c) => {
    const lx = legendCols[c], ly = legendRows[r];
    legend.append("line")
      .attr("x1", lx).attr("x2", lx + 98).attr("y1", ly).attr("y2", ly)
      .attr("stroke", betaColor(beta)).attr("stroke-width", 1.7)
      .attr("stroke-dasharray", posDash(pos));
    const t = legend.append("text")
      .attr("x", lx + 106).attr("y", ly + 10)
      .attr("font-family", serif);
    const bStr = beta < 0 ? "\u2212" + Math.abs(beta) : String(beta);
    richText(t, [
      {t: "\u03B2", i: 1}, {t: "=", l: 0.38, r: 0.38}, {t: bStr + "\u00B0,"},
      {t: "x", i: 1, l: 0.17}, {t: "/", l: 0.1, r: 0.1}, {t: "D", i: 1},
      {t: "=", l: 0.38, r: 0.38}, {t: String(pos)}
    ], 31);
  });
});
</script>
</body>
</html>
